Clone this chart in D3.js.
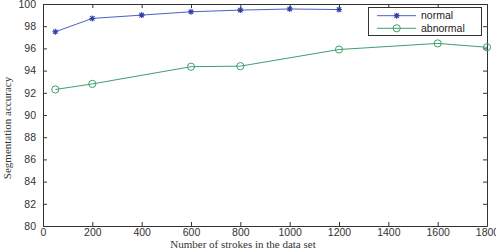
<!DOCTYPE html>
<html>
<head>
<meta charset="utf-8">
<script src="https://cdnjs.cloudflare.com/ajax/libs/d3/7.8.5/d3.min.js"></script>
<style>
html, body { margin: 0; padding: 0; background: #fff; }
svg { display: block; }
.tick text { font-family: "Liberation Sans", Arial, sans-serif; font-size: 10.5px; fill: #333; }
.lbl { font-family: "Liberation Serif", "Times New Roman", serif; font-size: 11px; fill: #333; }
.leg { font-family: "Liberation Sans", Arial, sans-serif; font-size: 10.5px; fill: #222; }
</style>
</head>
<body>
<svg id="chart" width="496" height="251"></svg>
<script>
// strokes in data set
var strokesNormal = [50, 200, 400, 600, 800, 1000, 1200];
var accNormal = [97.5, 98.7, 99.0, 99.3, 99.45, 99.55, 99.5];
var strokesAbnormal = [50, 200, 600, 800, 1200, 1600, 1800];
var accAbnormal = [92.3, 92.8, 94.35, 94.4, 95.9, 96.45, 96.1];
var xTicks = [0, 200, 400, 600, 800, 1000, 1200, 1400, 1600, 1800];
var yTicks = [80, 82, 84, 86, 88, 90, 92, 94, 96, 98, 100];
var seriesNames = ["normal", "abnormal"];

var blue = "#4a60c4", green = "#3ea070";
var mLeft = 43, mRight = 487, mTop = 4, mBottom = 226;

var svg = d3.select("#chart");
var x = d3.scaleLinear().domain([0, 1800]).range([mLeft, mRight]);
var y = d3.scaleLinear().domain([80, 100]).range([mBottom, mTop]);

// axes, matlab style: ticks inward on all four sides
var gx = svg.append("g").attr("transform", "translate(0," + mBottom + ")")
  .call(d3.axisBottom(x).tickValues(xTicks).tickFormat(d3.format("d")).tickSize(-4).tickPadding(3).tickSizeOuter(0));
var gy = svg.append("g").attr("transform", "translate(" + mLeft + ",0)")
  .call(d3.axisLeft(y).tickValues(yTicks).tickFormat(d3.format("d")).tickSize(-4).tickPadding(7).tickSizeOuter(0));
svg.append("g").attr("transform", "translate(0," + mTop + ")")
  .call(d3.axisTop(x).tickValues(xTicks).tickSize(-4).tickFormat("").tickSizeOuter(0));
svg.append("g").attr("transform", "translate(" + mRight + ",0)")
  .call(d3.axisRight(y).tickValues(yTicks).tickSize(-4).tickFormat("").tickSizeOuter(0));
svg.selectAll(".domain, .tick line").attr("stroke", "#333");

var line = d3.line().x(function(d) { return x(d[0]); }).y(function(d) { return y(d[1]); });

var dn = strokesNormal.map(function(v, i) { return [v, accNormal[i]]; });
var da = strokesAbnormal.map(function(v, i) { return [v, accAbnormal[i]]; });

svg.append("path").datum(dn).attr("d", line).attr("fill", "none").attr("stroke", blue).attr("stroke-width", 1);
svg.append("path").datum(da).attr("d", line).attr("fill", "none").attr("stroke", green).attr("stroke-width", 1);

function star(g, cx, cy, c) {
  var s = 3;
  g.append("path")
    .attr("d", "M" + (cx - s) + "," + cy + "H" + (cx + s) + "M" + cx + "," + (cy - s) + "V" + (cy + s) +
      "M" + (cx - 2.2) + "," + (cy - 2.2) + "L" + (cx + 2.2) + "," + (cy + 2.2) +
      "M" + (cx - 2.2) + "," + (cy + 2.2) + "L" + (cx + 2.2) + "," + (cy - 2.2))
    .attr("stroke", c).attr("stroke-width", 1.1);
}
function circ(g, cx, cy, c) {
  g.append("circle").attr("cx", cx).attr("cy", cy).attr("r", 3.6)
    .attr("fill", "none").attr("stroke", c).attr("stroke-width", 1);
}

var marks = svg.append("g");
dn.forEach(function(d) { star(marks, x(d[0]), y(d[1]), "#2c3ea8"); });
da.forEach(function(d) { circ(marks, x(d[0]), y(d[1]), green); });

// legend
var lg = svg.append("g");
lg.append("rect").attr("x", 368.5).attr("y", 7.5).attr("width", 113).attr("height", 28)
  .attr("fill", "#fff").attr("stroke", "#333").attr("stroke-width", 1);
var legY = [15.7, 28.3];
var legC = [blue, green];
seriesNames.forEach(function(n, i) {
  lg.append("line").attr("x1", 377).attr("x2", 416).attr("y1", legY[i]).attr("y2", legY[i])
    .attr("stroke", legC[i]).attr("stroke-width", 1);
  if (i === 0) star(lg, 396.7, legY[i], "#2c3ea8"); else circ(lg, 396.7, legY[i], green);
  lg.append("text").attr("class", "leg").attr("x", 421).attr("y", legY[i]).attr("dy", "0.35em").text(n);
});

// axis labels
svg.append("text").attr("class", "lbl").attr("text-anchor", "middle")
  .attr("x", 243).attr("y", 248).text("Number of strokes in the data set");
svg.append("text").attr("class", "lbl").attr("text-anchor", "middle")
  .attr("transform", "translate(11,128) rotate(-90)").text("Segmentation accuracy");
</script>
</body>
</html>
